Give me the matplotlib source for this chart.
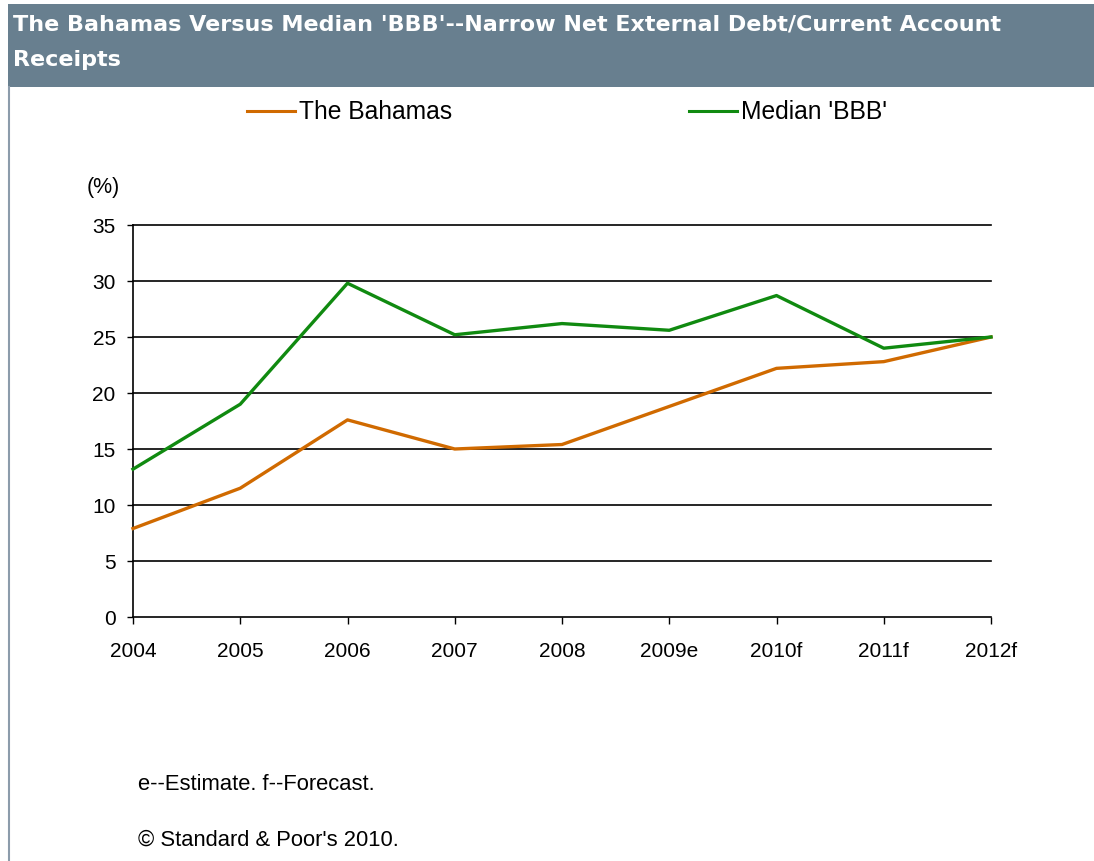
import matplotlib
matplotlib.use("Agg")
import matplotlib.pyplot as plt
from matplotlib.patches import Rectangle
from matplotlib.lines import Line2D

years = ["2004", "2005", "2006", "2007", "2008", "2009e", "2010f", "2011f", "2012f"]
bahamas = [7.9, 11.5, 17.6, 15.0, 15.4, 18.8, 22.2, 22.8, 25.0]
median_bbb = [13.2, 19.0, 29.8, 25.2, 26.2, 25.6, 28.7, 24.0, 25.0]
yticks = [0, 5, 10, 15, 20, 25, 30, 35]

W, H = 1094, 862
plt.rcParams["font.family"] = ["Liberation Sans", "DejaVu Sans"]
fig = plt.figure(figsize=(W / 100, H / 100), dpi=100)
fig.patch.set_facecolor("white")
renderer = fig.canvas.get_renderer()


def fx(x):
    return x / W


def fy(y):
    return 1 - y / H


def fit(t, target_px):
    bb = t.get_window_extent(renderer=renderer)
    t.set_fontsize(t.get_fontsize() * target_px / bb.width)


# header band
fig.patches.append(Rectangle((fx(8), fy(88)), 1 - fx(8), fy(5) - fy(88),
                             transform=fig.transFigure, facecolor="#687f8f",
                             edgecolor="none", zorder=0))
# left border
fig.lines.append(Line2D([fx(9), fx(9)], [0, fy(88)], transform=fig.transFigure,
                        color="#8c9cab", lw=1.5))

t1 = fig.text(fx(13), fy(25), "The Bahamas Versus Median 'BBB'--Narrow Net External Debt/Current Account",
              color="white", fontsize=16, fontweight="bold", va="center", ha="left",
              family=["DejaVu Sans"])
fit(t1, 992)
t2 = fig.text(fx(13), fy(60), "Receipts",
              color="white", fontsize=t1.get_fontsize(), fontweight="bold", va="center", ha="left",
              family=["DejaVu Sans"])

# legend
orange = "#d06a00"
green = "#108a10"
fig.lines.append(Line2D([fx(247), fx(295)], [fy(112), fy(112)], transform=fig.transFigure,
                        color=orange, lw=2.2))
lt1 = fig.text(fx(299), fy(112), "The Bahamas", fontsize=17, va="center", ha="left")
fit(lt1, 153)
fig.lines.append(Line2D([fx(689), fx(737)], [fy(112), fy(112)], transform=fig.transFigure,
                        color=green, lw=2.2))
fig.text(fx(741), fy(112), "Median 'BBB'", fontsize=lt1.get_fontsize(), va="center", ha="left")

ax = fig.add_axes([fx(133), fy(618), fx(991) - fx(133), fy(226) - fy(618)])
ax.set_facecolor("none")
x = list(range(len(years)))
ax.plot(x, bahamas, color=orange, lw=2.4, clip_on=False, zorder=3)
ax.plot(x, median_bbb, color=green, lw=2.4, clip_on=False, zorder=3)
ax.set_xlim(0, len(years) - 1)
ax.set_ylim(0, 35)
ax.set_yticks(yticks)
ax.set_yticklabels([str(v) for v in yticks], fontsize=15)
ax.set_xticks(x)
ax.set_xticklabels(years, fontsize=15)
ax.tick_params(axis="both", direction="out", width=1, color="black")
ax.tick_params(axis="x", pad=12, length=5)
ax.tick_params(axis="y", pad=8, length=4.5)
for v in yticks[1:]:
    ax.axhline(v, color="black", lw=1.2, zorder=1, clip_on=False)
for s in ["top", "right"]:
    ax.spines[s].set_visible(False)
for s in ["left", "bottom"]:
    ax.spines[s].set_color("black")
    ax.spines[s].set_linewidth(1.2)

fig.text(fx(87), fy(187), "(%)", fontsize=15.5, va="center", ha="left")
fn1 = fig.text(fx(138), fy(785), "e--Estimate. f--Forecast.", fontsize=15.5, va="center", ha="left")
fit(fn1, 237)
fig.text(fx(138), fy(840), "\u00a9 Standard & Poor's 2010.", fontsize=fn1.get_fontsize(),
         va="center", ha="left")

fig.savefig("out.png", dpi=100)
